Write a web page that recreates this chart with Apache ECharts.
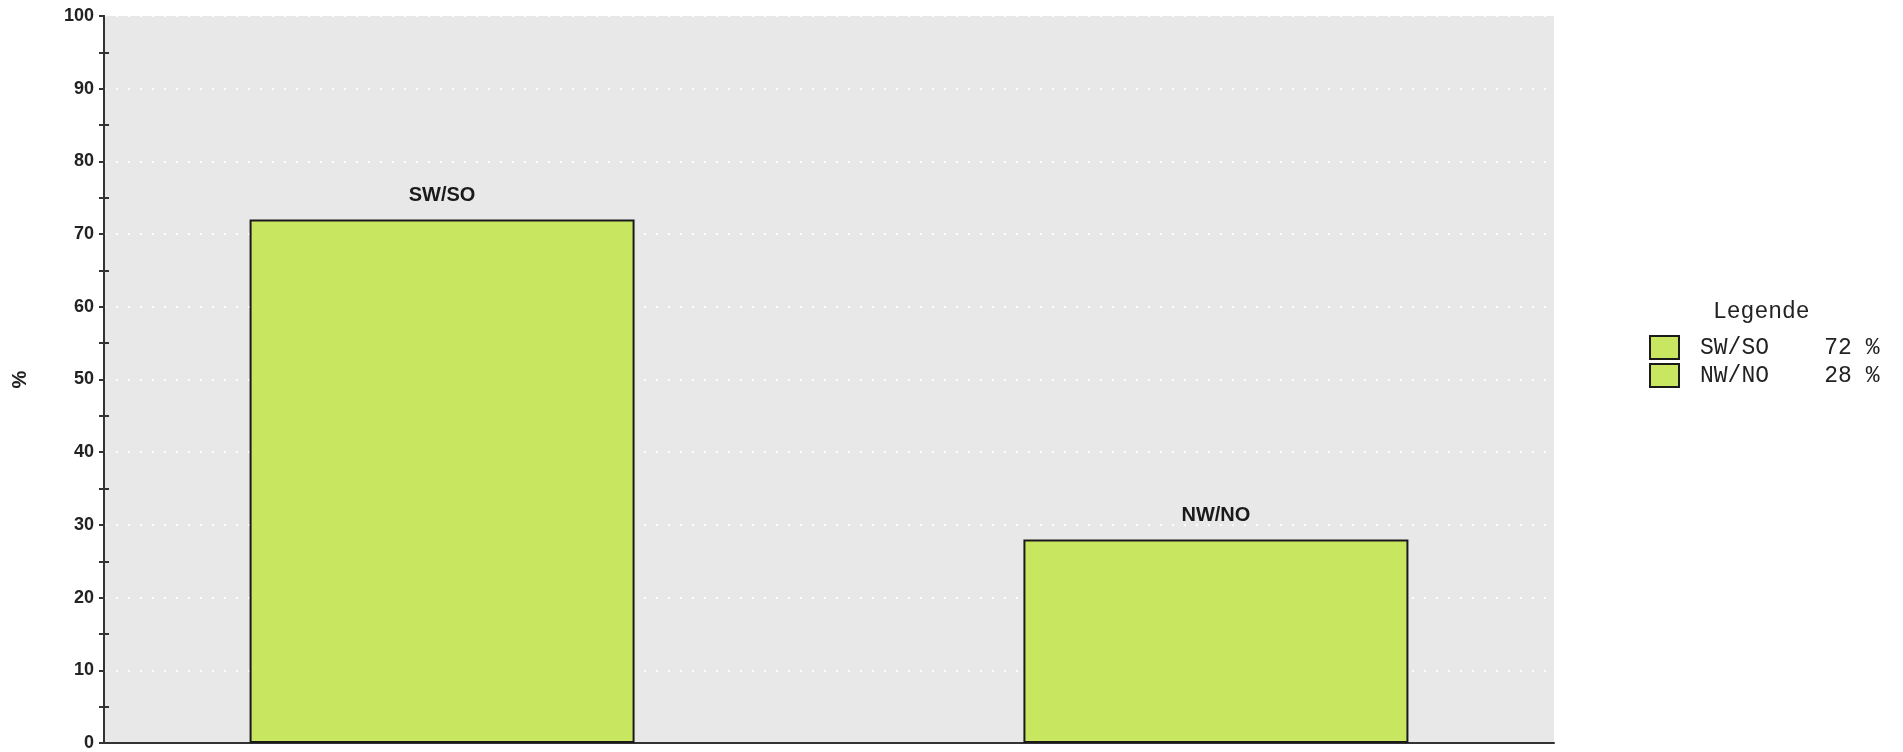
<!DOCTYPE html>
<html><head><meta charset="utf-8">
<script src="https://cdn.jsdelivr.net/npm/echarts@6/dist/echarts.min.js"></script>
<style>html,body{margin:0;padding:0;background:#fff;}#c{width:1903px;height:752px;}</style>
</head><body><div id="c"></div>
<script>
const seriesNames = ['SW/SO', 'NW/NO'];
const seriesValues = [72, 28];
const yTicks = [0, 10, 20, 30, 40, 50, 60, 70, 80, 90, 100];
const legendTitle = 'Legende';
const yName = '%';

// half-step positions (0,5,10,...,100) for the minor ticks that cross the axis
const halfSteps = [];
yTicks.forEach((t, i) => { halfSteps.push(String(t)); if (i < yTicks.length - 1) halfSteps.push(String((t + yTicks[i + 1]) / 2)); });

const barColor = '#c9e660';
const chart = echarts.init(document.getElementById('c'));
const series = seriesNames.map((n, i) => ({
  name: n, type: 'bar', data: [seriesValues[i]],
  barWidth: 385, barGap: '101%',
  itemStyle: { color: barColor, borderColor: '#1a1a1a', borderWidth: 2 },
  label: { show: true, position: 'top', distance: 14, formatter: '{a}',
    fontFamily: 'Liberation Sans', fontWeight: 'bold', fontSize: 20, color: '#1a1a1a' }
}));
chart.setOption({
  animation: false,
  grid: { left: 104, right: 349, top: 16, bottom: 9, backgroundColor: '#e8e8e8', show: true, borderWidth: 0 },
  title: { text: legendTitle, left: 1708, top: 295,
    textStyle: { fontFamily: 'Liberation Mono', fontWeight: 'normal', fontSize: 23, color: '#222' } },
  legend: {
    orient: 'vertical', left: 1644, top: 330, itemWidth: 29, itemHeight: 23, itemGap: 3,
    icon: 'rect', selectedMode: false,
    itemStyle: { borderColor: '#1a1a1a', borderWidth: 2 },
    formatter: function (name) {
      const i = seriesNames.indexOf(name);
      return name + '    ' + seriesValues[i] + ' %';
    },
    textStyle: { fontFamily: 'Liberation Mono', fontSize: 23, lineHeight: 23, color: '#222', padding: [0, 0, 0, 16] }
  },
  xAxis: {
    type: 'category', data: [''],
    axisLine: { lineStyle: { color: '#333', width: 2 } },
    axisTick: { show: false }, axisLabel: { show: false }, splitLine: { show: false }
  },
  yAxis: [{
    type: 'value', min: yTicks[0], max: yTicks[yTicks.length - 1], interval: 10,
    name: yName, nameLocation: 'middle', nameGap: 74, nameRotate: 90,
    nameTextStyle: { fontFamily: 'Liberation Sans', fontWeight: 'bold', fontSize: 20, color: '#222' },
    axisLine: { show: true, lineStyle: { color: '#333', width: 2 } },
    axisTick: { show: true, length: 5, lineStyle: { color: '#333', width: 2 } },
    axisLabel: { margin: 10, fontFamily: 'Liberation Sans', fontWeight: 'bold', fontSize: 18, color: '#222' },
    splitLine: { show: true, lineStyle: { color: '#ffffff', width: 2, type: [2, 10] } },
    minorTick: { show: true, splitNumber: 2, length: 5, lineStyle: { color: '#333', width: 2 } }
  }, {
    type: 'category', position: 'left', offset: 0, data: halfSteps, boundaryGap: false,
    axisLine: { show: true, lineStyle: { color: '#333', width: 2 } },
    axisTick: { show: true, inside: true, length: 5, alignWithLabel: true,
      interval: function (i) { return i % 2 === 1; },
      lineStyle: { color: '#333', width: 2 } },
    axisLabel: { show: false }, splitLine: { show: false }
  }],
  series: series
});
</script></body></html>
